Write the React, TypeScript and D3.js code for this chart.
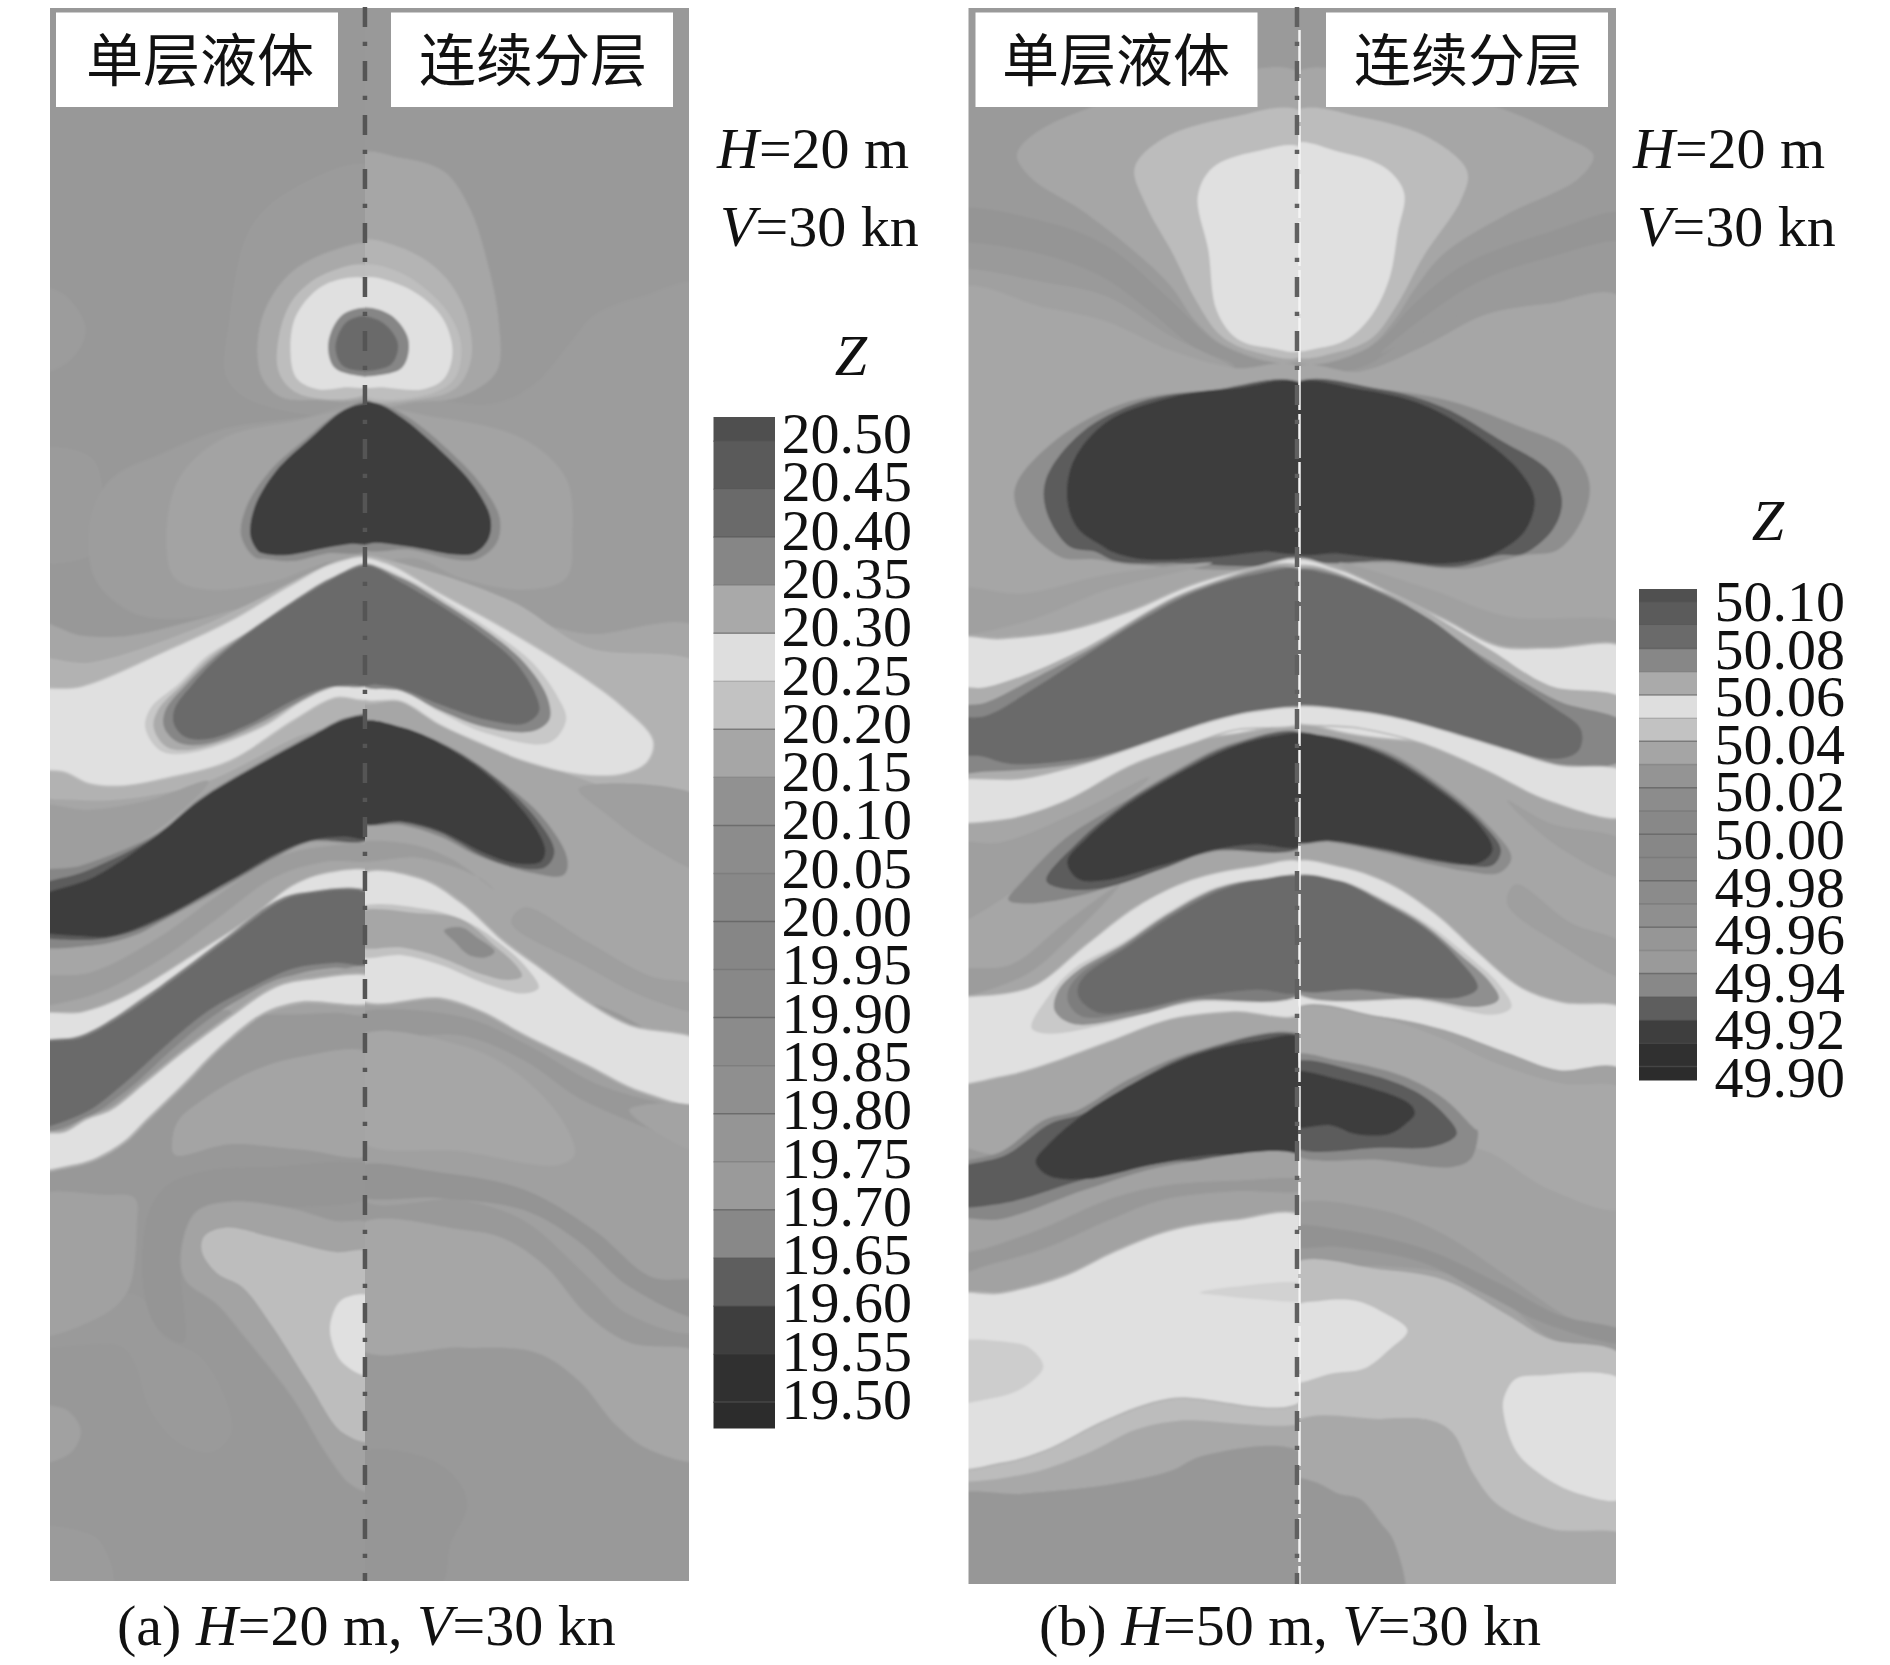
import React from "react";
import * as d3 from "d3";

type Pt = [number, number];
type Layer = { shade: string; pts: Pt[]; edge?: string; edgeW?: number };

// Digitising frames: y is read in one of several frames and converted to station units
const frame = (off: number, k: number) => (...n: number[]): Pt[] => {
  const out: Pt[] = [];
  for (let i = 0; i < n.length; i += 2) out.push([n[i], off + n[i + 1] / k]);
  return out;
};
const z1 = frame(0, 2.8);
const z2 = frame(540, 2.613);
const z3 = frame(1120, 2.877);
const L = (shade: string, ...parts: Pt[][]): Layer => ({ shade, pts: parts.flat() });
const LE = (shade: string, edge: string, edgeW: number, ...parts: Pt[][]): Layer => ({ shade, edge, edgeW, pts: parts.flat() });

const DK = "#3d3d3d", D2 = "#5c5c5c", MD = "#6a6a6a", RG = "#868686", LT = "#e0e0e0", EE = "#bdbdbd", CC = "#a6a6a6";

// ---------- Panel (a) single-layer half ----------
const aLeft: Layer[] = [
  L("#9b9b9b", z1(790,470,600,530,500,640,450,900,445,1060,520,1130,790,1130)),
  L("#9c9c9c", z1(-30,810,50,820,108,920,70,1010,-30,1045)),
  L("#9b9b9b", z1(-30,1270,120,1280,150,1400,140,1540,-30,1560)),
  L("#9d9d9d", z1(790,1135,620,1170,440,1200,290,1270,170,1340,120,1450), z2(130,100,220,190,340,205,480,175,620,100,700,50,790,45)),
  L("#a3a3a3", z1(790,1160,600,1180,430,1230,330,1340,300,1500), z2(320,100,400,130,550,110,680,60,790,40)),
  L("#a9a9a9", z1(790,690,700,700,590,770,525,900,525,1050,570,1110,650,1120,790,1100)),
  L(EE, z1(790,750,680,765,600,840,565,960,570,1050,620,1105,790,1090)),
  L(LT, z1(790,790,680,795,610,880,595,980,610,1060,660,1090,720,1085,790,1075)),
  L(RG, z1(790,868,720,880,685,960,700,1030,772,1055,790,1055)),
  L(MD, z1(790,890,730,900,702,970,720,1025,772,1040,790,1040)),
  L("#8a8a8a", z1(790,1128,720,1148,630,1230,545,1320,490,1420,478,1500,510,1560), z2(540,50,600,55,680,35,790,20)),
  L(DK, z1(790,1130,770,1130,720,1150,640,1230,560,1320,510,1420,500,1500,520,1545), z2(530,35,580,40,680,20,740,10,790,5)),
  L(CC, z2(-30,220,100,250,210,250,400,200,550,150,700,65,790,50,790,1215,600,1215,300,1240,-30,1250)),
  L("#b2b2b2", z2(-30,320,120,320,350,240,500,165,700,60,790,50,790,425,600,520,400,630,250,670,100,680,-30,650)),
  LE(LT, "#c4c4c4", 3, z2(790,55,700,62,600,118,450,215,300,292,100,385,-30,405,-30,585,60,605,120,635,200,640,300,620,450,575,600,470,700,410,790,408)),
  L("#c8c8c8", z2(790,66,690,100,600,160,500,235,400,300,330,375,262,440,250,490,285,550,350,558,530,490,620,425,700,385,790,372)),
  L("#ababab", z2(790,66,690,100,600,160,500,235,410,300,340,375,280,445,270,490,300,540,360,548,520,490,615,425,695,385,790,372)),
  L(RG, z2(790,66,690,100,600,160,500,235,415,305,350,375,298,445,295,490,330,530,400,532,510,485,610,425,690,385,790,372)),
  L(MD, z2(790,68,760,70,690,105,600,165,500,240,420,310,360,380,320,440,318,480,345,515,400,520,500,480,600,420,680,385,740,378,790,378)),
  L("#9e9e9e", z2(-30,700,120,705,260,680,400,630,300,740,130,850,-30,890)),
  L(RG, z2(-30,880,100,850,280,765,380,675,500,595,650,505,730,463,790,463,790,775,640,790,560,830,450,900,300,990,220,1035,120,1060,-30,1050)),
  L(D2, z2(-30,920,110,865,280,770,380,680,500,600,650,510,730,466,790,466,790,775,640,787,450,893,300,985,200,1030,110,1045,-30,1020)),
  L(DK, z2(790,465,730,468,650,510,500,600,380,680,280,770,130,880,-30,950,-30,1010,100,1035,170,1035,300,980,450,890,560,820,640,785,720,775,790,775)),
  L("#9c9c9c", z2(790,835,680,840,560,880,420,990,280,1100,120,1190,-30,1210,-30,1150,120,1130,280,1040,420,930,560,830,680,800,790,800)),
  LE(LT, "#bcbcbc", 3, z2(790,870,680,872,600,905,500,990,380,1075,200,1195,100,1235,-30,1245,-30,1305,100,1295,250,1190,350,1120,450,1040,570,945,630,925,790,930)),
  L(RG, z2(790,925,630,920,565,940,445,1035,335,1125,195,1235,95,1295,-30,1325,-30,1545,100,1515,210,1435,310,1335,410,1245,510,1180,610,1135,700,1118,790,1118)),
  L(MD, z2(790,930,630,925,570,945,450,1040,340,1130,200,1240,100,1300,-30,1330,-30,1530,100,1500,200,1420,300,1320,400,1230,500,1170,600,1120,700,1105,790,1105)),
  L("#a4a4a4", z2(790,1345,620,1350,500,1390,390,1460,330,1515), z3(315,50,320,100,450,70,620,85,790,95)),
  L("#a2a2a2", z2(790,1118,700,1125,560,1150,450,1230,560,1240,700,1235,790,1235)),
  LE(LT, "#b0b0b0", 5, z2(790,1145,640,1150,560,1170,450,1250,340,1340,250,1420,170,1490), z3(110,0,60,35,-30,50,-30,140,70,130,130,110,200,60,250,0), z2(340,1420,430,1320,530,1235,620,1205,790,1205)),
  L("#9a9a9a", z3(-30,650,190,650,225,700,260,830,330,930,410,955,455,900,440,800,380,680,290,620,250,520,205,500,100,590,-30,615)),
  L("#a1a1a1", z3(-30,230,150,215,225,225,230,300,205,500,120,580,-30,615)),
  L("#959595", z3(790,135,550,135,400,145,300,190,255,280,248,500,280,600,340,640,335,460,335,380,370,265,450,235,600,250,790,215)),
  L("#a3a3a3", z3(790,305,700,290,600,255,450,235,370,265,335,380,345,460,420,530,490,630,600,800,680,960,740,1050,790,1065)),
  L("#bdbdbd", z3(790,385,700,380,560,340,440,310,390,335,385,380,420,440,480,480,550,590,640,760,720,900,790,920)),
  L(LT, z3(790,510,720,515,695,560,690,620,720,700,790,735)),
  L("#a1a1a1", z3(-30,825,40,825,70,840,97,895,70,960,-30,985)),
  L("#9b9b9b", z3(-30,1180,100,1185,140,1210,170,1340,-30,1360)),
];

// ---------- Panel (a) continuous-stratification half ----------
const aRight: Layer[] = [
  L("#9c9c9c", z1(755,1130,1080,1130,1180,1070,1260,960,1320,880,1430,830,1580,800), z2(1580,240,1300,245,1160,205,1000,130,860,60,755,45)),
  L(CC, z1(755,435,850,440,960,480,1020,580,1060,720,1090,900,1085,1040,1000,1110,900,1125,755,1125)),
  L("#b4b4b4", z1(755,680,850,690,950,760,1010,870,1025,1000,990,1085,900,1118,755,1105)),
  L("#bebebe", z1(755,750,850,760,960,860,1000,960,985,1060,920,1105,755,1095)),
  L(LT, z1(755,785,860,800,950,880,980,980,960,1060,910,1090,820,1085,755,1075)),
  L(RG, z1(755,868,830,880,875,950,860,1030,772,1055,755,1055)),
  L(MD, z1(755,890,810,900,850,960,835,1020,772,1040,755,1040)),
  L("#a3a3a3", z1(755,1160,950,1170,1150,1230,1250,1340,1265,1500), z2(1250,100,1150,130,1000,100,900,50,755,40)),
  L("#8a8a8a", z1(755,1128,800,1128,870,1165,970,1260,1050,1360,1092,1450,1085,1520,1040,1565), z2(980,50,880,25,755,15)),
  L(DK, z1(755,1130,800,1130,860,1170,950,1260,1030,1360,1070,1450,1065,1510,1030,1550,980,1552,900,1535,800,1520,755,1520)),
  L(CC, z2(755,50,860,60,1000,130,1160,205,1300,245,1580,240,1580,1320,1300,1210,755,1210)),
  L("#b2b2b2", z2(755,50,850,60,1120,160,1300,280,1580,335,1580,680,1400,660,1250,610,1100,540,950,450,860,420,755,420)),
  LE(LT, "#c4c4c4", 3, z2(755,405,860,420,950,480,1050,530,1150,575,1280,610,1380,610,1440,580,1455,525,1380,435,1250,332,1100,232,950,142,820,62,755,55)),
  L("#c8c8c8", z2(755,66,870,100,980,170,1090,250,1170,320,1230,410,1250,470,1210,530,1060,505,950,450,860,395,755,372)),
  L(RG, z2(755,66,860,100,960,165,1070,245,1150,320,1205,410,1210,470,1170,500,1060,490,950,445,860,395,755,372)),
  L(MD, z2(755,70,790,70,850,105,950,170,1050,245,1130,320,1180,410,1185,450,1150,480,1060,470,950,430,860,390,800,378,755,378)),
  L("#9f9f9f", z2(1280,650,1580,680,1580,860,1450,800,1350,720)),
  L(RG, z2(755,480,860,490,990,550,1095,630,1190,720,1252,830,1245,875,1170,870,1040,825,950,775,860,745,755,735)),
  L(D2, z2(755,480,860,490,985,550,1090,630,1180,730,1222,815,1200,855,1130,855,1050,825,950,765,860,738,755,735)),
  L(DK, z2(755,480,860,490,980,550,1080,630,1170,740,1200,810,1190,840,1130,845,1050,815,950,760,860,735,755,735)),
  L("#9c9c9c", z2(755,795,880,795,980,835,1080,915,1040,880,900,830,755,835)),
  L("#9f9f9f", z2(1150,960,1300,1050,1450,1140,1580,1170,1580,1230,1450,1200,1290,1110,1120,1000)),
  L("#a0a0a0", z2(755,1195,950,1195,1050,1230,1150,1290,1300,1370,1430,1440,1580,1470), z3(1580,600,1400,560,1300,450,1150,290,1000,230,755,220)),
  L("#989898", z2(755,1240,1000,1245,1160,1320,1320,1420,1580,1520,1580,1570,1300,1470,1150,1360,1000,1295,755,1295)),
  LE(LT, "#b6b6b6", 4, z2(755,880,900,885,1000,950,1100,1050,1200,1130,1300,1210,1400,1270,1580,1320,1580,1470,1430,1440,1300,1370,1150,1290,1050,1230,950,1195,755,1195)),
  L("#c2c2c2", z2(755,965,920,965,1020,1000,1100,1060,1150,1110,1185,1170,1150,1185,1060,1160,950,1110,860,1085,755,1085)),
  L(CC, z2(755,975,900,975,1000,990,1080,1060,1130,1110,1145,1140,1110,1150,1050,1135,950,1090,860,1065,755,1060)),
  L("#8b8b8b", z2(960,1020,1000,1012,1040,1040,1080,1075,1060,1090,1020,1085,985,1050)),
  L("#a6a6a6", z2(755,1300,1000,1320,1130,1390,1240,1515), z3(1270,100,1230,130,1000,90,755,55)),
  L("#a3a3a3", z3(1400,-30,1470,40,1580,90,1580,-30)),
  L("#949494", z3(755,135,950,150,1150,200,1320,320,1450,450,1580,470,1580,570,1400,480,1280,350,1150,260,950,225,755,215)),
  L("#969696", z3(755,965,900,965,980,1020,1015,1105,975,1220,950,1340,755,1340)),
  L(CC, z3(755,305,1000,315,1100,340,1200,420,1300,560,1400,640,1580,680,1580,975,1450,950,1370,880,1280,750,1180,670,1000,655,755,655)),
];

// ---------- Panel (b) ----------
const bLeft: Layer[] = [
  L("#959595", z1(-30,595,200,620,350,690,500,840,600,950,700,1005,820,1030,820,1045,650,1030,500,940,350,830,200,790,-30,760)),
  L("#9a9a9a", z1(-30,690,150,700,330,770,450,870,560,975,650,1020,650,1030,500,940,350,830,200,790,-30,760)),
  L("#a0a0a0", z1(-30,760,200,790,350,830,500,940,650,1030,650,1035,500,980,350,900,200,860,-30,820)),
  L(CC, z1(820,215,600,215,300,305,170,380,135,435,170,500,290,590,410,700,500,800,560,900,640,975,820,1000)),
  L("#bcbcbc", z1(820,320,640,330,480,390,415,470,440,570,510,720,560,840,620,940,700,985,820,990)),
  L(LT, z1(820,420,700,425,600,470,565,550,590,700,610,870,660,950,740,975,820,975)),
  L(CC, z1(-30,820,200,860,350,900,500,980,650,1030,820,1040), z2(820,1310,-30,1560)),
  L("#8e8e8e", z1(820,1082,600,1092,400,1125,230,1230,130,1370,155,1470,240,1560), z2(320,50,420,65,820,30)),
  L(D2, z1(820,1082,600,1092,430,1125,290,1210,205,1340,205,1430,260,1530), z2(320,30,370,55,500,60,820,28)),
  L(DK, z1(820,1082,650,1088,500,1113,350,1180,270,1290,255,1400,280,1480,340,1530), z2(360,30,430,50,600,45,720,30,820,25)),
  L("#a0a0a0", z2(-30,130,150,140,350,90,600,60,350,130,150,215,-30,240)),
  LE(LT, "#b5b5b5", 4, z2(820,60,700,75,550,120,400,190,250,240,100,260,-30,265,-30,440,820,440)),
  L("#adadad", z2(820,75,560,125,300,280,160,350,60,385,-30,395,-30,630,100,630,300,590,600,490,820,445)),
  L(RG, z2(820,85,560,130,300,290,170,365,60,425,-30,445,-30,600,70,605,300,580,600,485,820,445)),
  L(MD, z2(820,85,700,90,560,135,430,210,300,300,180,385,60,460,-30,470,-30,555,50,565,120,585,300,570,450,530,600,480,700,450,820,445)),
  LE(LT, "#b8b8b8", 3, z2(820,445,700,450,600,475,450,530,300,585,150,625,-30,640,-30,725,100,730,250,680,400,590,550,530,650,495,820,475)),
  L("#9f9f9f", z2(-30,800,100,790,300,700,450,620,300,760,150,900,-30,1000)),
  L("#9c9c9c", z2(-30,1130,120,1110,250,1000,380,900,260,1040,150,1140,-30,1190)),
  L(RG, z2(820,510,650,530,500,610,380,690,250,780,150,890,115,940,160,950,300,925,470,860,600,815,820,795)),
  L(D2, z2(820,511,650,535,510,610,390,690,280,790,205,890,240,910,340,910,480,860,600,812,820,795)),
  L(DK, z2(820,512,750,512,650,540,520,610,400,690,300,780,255,840,280,885,340,890,480,850,600,810,700,795,820,795)),
  LE(LT, "#bcbcbc", 3, z2(820,850,700,855,550,890,420,960,300,1060,170,1170,20,1195,-30,1195,-30,1410,100,1400,200,1370,350,1310,500,1250,650,1230,820,1230)),
  L("#c9c9c9", z2(820,885,720,885,605,908,485,978,385,1052,270,1120,205,1200,170,1275,210,1290,330,1270,550,1210,820,1180)),
  L("#8f8f8f", z2(820,885,720,885,610,910,490,980,390,1055,280,1125,232,1180,225,1230,270,1265,430,1240,550,1205,820,1178)),
  L("#7d7d7d", z2(820,887,720,887,615,912,495,982,395,1058,290,1130,258,1175,258,1210,290,1245,430,1230,550,1200,820,1177)),
  L(MD, z2(820,888,720,888,620,915,500,985,400,1060,300,1135,280,1170,285,1200,330,1235,430,1225,550,1195,700,1175,820,1175)),
  L("#878787", z2(820,1300,560,1335,400,1410,280,1490), z3(200,0,100,90,-30,145,-30,295,100,285,300,200,500,130,820,100)),
  L(D2, z2(820,1303,560,1340,410,1420,290,1500), z3(215,10,110,100,-30,155,-30,240,100,240,300,170,500,120,820,98)),
  L(DK, z2(820,1305,700,1310,560,1345,430,1410,300,1495), z3(210,70,180,120,210,160,300,170,450,130,600,100,820,95)),
  L("#a2a2a2", z3(-30,295,100,285,300,200,500,130,820,110,820,285,650,290,500,320,370,380,250,450,100,500,-30,515)),
  L("#989898", z3(820,200,650,205,480,230,350,290,200,370,60,420,-30,450,-30,400,60,370,200,310,350,230,480,190,650,175,820,175)),
  L("#a8a8a8", z3(820,860,520,860,420,885,300,955,150,1015,-30,1025,-30,1090,150,1075,350,1050,500,1010,580,965,820,965)),
  L("#bcbcbc", z3(820,790,500,790,350,850,200,940,100,975,-30,980,-30,1030,150,1020,300,960,420,890,520,865,820,865)),
  LE(LT, "#b5b5b5", 4, z3(820,285,650,290,500,320,370,380,250,450,100,500,-30,515,-30,990,100,985,200,950,350,860,500,800,820,800)),
  L("#cdcdcd", z3(-30,650,120,640,165,655,198,710,150,770,80,800,-30,805)),
  L("#d2d2d2", z3(570,497,650,480,820,475,820,515,700,515,620,505)),
  L("#979797", z3(-30,1090,150,1075,350,1050,500,1010,580,965,820,965,820,1400,-30,1400)),
];

const bRight: Layer[] = [
  L("#959595", z1(1580,600,1400,650,1200,740,1080,850,1000,950,900,1005,785,1030,785,1045,950,1030,1060,950,1200,840,1400,770,1580,760)),
  L("#9a9a9a", z1(1580,680,1400,720,1230,790,1100,890,1000,990,1100,930,1250,850,1400,800,1580,760)),
  L(CC, z1(785,215,1000,215,1290,305,1430,380,1505,435,1470,500,1300,600,1150,710,1080,810,1030,900,960,980,785,1005)),
  L("#bcbcbc", z1(785,320,960,330,1120,390,1205,480,1190,560,1100,720,1040,850,980,945,900,985,785,990)),
  L(LT, z1(785,408,900,425,1010,470,1055,540,1040,650,1020,780,980,880,920,950,850,975,785,975)),
  L(CC, z1(1580,840,1400,850,1250,880,1100,970,950,1040,785,1040), z2(785,1310,1580,1560)),
  L("#8e8e8e", z1(785,1082,1000,1090,1170,1125,1320,1190,1450,1260,1495,1350,1480,1450,1420,1540), z2(1340,40,1200,75,1030,60,785,30)),
  L(D2, z1(785,1082,1000,1090,1150,1142,1280,1230,1400,1320,1430,1400,1410,1480,1340,1550), z2(1280,40,1180,70,1030,55,785,28)),
  L(DK, z1(785,1082,950,1090,1100,1133,1230,1220,1330,1320,1365,1400,1340,1490,1270,1550), z2(1230,50,1130,62,1000,48,900,35,785,25)),
  L("#a0a0a0", z2(900,60,1120,130,1300,200,1580,220,1580,290,1300,280,1100,190,950,100)),
  LE(LT, "#b5b5b5", 4, z2(785,60,900,80,1020,140,1150,210,1280,280,1400,285,1580,285,1580,450,785,445)),
  L("#adadad", z2(785,75,1020,140,1250,280,1400,380,1580,420,1580,615,1430,610,1300,570,1050,480,785,445)),
  L(RG, z2(785,85,1000,135,1250,310,1420,420,1580,480,1580,570,1430,597,1300,565,1050,475,785,442)),
  L(MD, z2(785,88,880,90,1000,140,1120,210,1250,320,1400,430,1475,495,1470,550,1420,572,1300,550,1180,510,1050,470,950,450,785,440)),
  LE(LT, "#b8b8b8", 3, z2(785,442,950,450,1050,470,1180,510,1300,550,1420,590,1580,610,1580,720,1400,680,1250,600,1100,530,950,490,785,470)),
  L("#9f9f9f", z2(1580,790,1400,740,1300,680,1420,800,1580,880)),
  L("#9f9f9f", z2(1320,900,1450,1000,1580,1060,1580,1140,1430,1060,1300,950)),
  L("#8c8c8c", z2(785,510,860,510,1010,550,1130,630,1250,740,1310,830,1280,870,1200,865,1130,850,1000,815,880,790,785,785)),
  L(D2, z2(785,511,860,511,1005,555,1125,635,1240,740,1285,810,1265,850,1200,850,1130,840,1000,810,880,787,785,783)),
  L(DK, z2(785,512,860,512,1000,560,1120,640,1230,740,1265,810,1230,845,1130,835,1000,805,880,785,785,782)),
  LE(LT, "#bcbcbc", 3, z2(785,850,900,855,1020,900,1130,980,1230,1080,1330,1170,1430,1210,1580,1230,1580,1390,1420,1385,1300,1340,1150,1280,1000,1245,785,1230)),
  L("#c9c9c9", z2(785,885,900,888,1010,940,1110,1002,1200,1080,1280,1160,1310,1220,1270,1240,1100,1205,785,1175)),
  L("#8f8f8f", z2(785,886,900,890,1005,942,1105,1006,1190,1085,1255,1150,1280,1200,1230,1220,1100,1200,785,1172)),
  L(MD, z2(785,888,900,892,1000,945,1100,1010,1180,1090,1230,1170,1190,1195,1100,1195,950,1175,785,1165)),
  L("#a2a2a2", z2(785,1232,1000,1245,1150,1280,1300,1340,1420,1385,1580,1390), z3(1580,690,1400,630,1300,560,1150,460,1000,430,785,420)),
  L("#a8a8a8", z2(785,1235,1000,1250,1140,1300,1280,1370,1430,1420,1580,1440), z3(1580,250,1400,200,1250,90,1100,60,785,80)),
  L("#8a8a8a", z2(785,1350,900,1360,1050,1400,1150,1460,1225,1540), z3(1230,30,1215,110,1170,135,1000,115,785,90)),
  L(D2, z2(785,1370,950,1390,1080,1440,1150,1500), z3(1180,40,1130,75,1000,80,785,70)),
  L(DK, z2(785,1395,900,1410,1070,1475,1080,1500), z3(1060,10,1020,40,940,40,880,15,785,15)),
  L("#9a9a9a", z3(785,250,1000,260,1150,330,1300,450,1450,570,1580,630,1580,690,1400,625,1280,510,1150,440,1000,420,785,415)),
  L("#929292", z3(785,310,900,315,1100,370,1280,470,1420,560,1580,610,1580,640,1400,590,1230,490,1100,410,900,365,785,360)),
  L("#bebebe", z3(785,420,1000,430,1150,460,1300,560,1400,630,1580,685,1580,1205,1400,1175,1280,1110,1220,1020,1170,900,1120,865,1000,860,785,880)),
  L(LT, z3(785,545,860,520,940,520,1000,550,1063,605,1020,660,960,715,880,730,810,755,785,755)),
  L(LT, z3(1580,755,1380,735,1320,745,1295,790,1290,830,1320,950,1380,1020,1470,1075,1580,1085)),
  L("#a8a8a8", z3(785,880,1000,860,1120,865,1170,900,1220,1020,1280,1110,1400,1175,1600,1205,1600,1400,785,1400)),
  L("#979797", z3(785,1035,840,1040,900,1075,950,1090,1000,1160,1030,1210,1050,1400,785,1400)),
];

const baseAL = "#989898", baseAR = "#999999", baseB = "#9a9a9a";

// ---------- Colour bars ----------
const levelsA = d3.range(21).map((i) => +(20.5 - i * 0.05).toFixed(2));
const coloursA = ["#4f4f4f","#5a5a5a","#6a6a6a","#868686","#a9a9a9","#dedede","#c2c2c2","#a6a6a6","#919191","#8c8c8c","#888888","#868686","#888888","#8b8b8b","#8f8f8f","#959595","#9a9a9a","#888888","#5e5e5e","#3e3e3e","#303030","#2c2c2c"];
const levelsB = d3.range(21).map((i) => +(50.1 - i * 0.01).toFixed(2));
const coloursB = ["#505050","#5b5b5b","#6a6a6a","#878787","#aaaaaa","#dedede","#c2c2c2","#a5a5a5","#949494","#8c8c8c","#888888","#878787","#888888","#8b8b8b","#8f8f8f","#969696","#9a9a9a","#888888","#5e5e5e","#3e3e3e","#303030","#2c2c2c"];
const labelsB = [50.1,50.08,50.06,50.04,50.02,50.0,49.98,49.96,49.94,49.92,49.9];

const SERIF = "'Liberation Serif', serif";
const CJK = "'Noto Sans CJK SC', sans-serif";

const digitY = d3.scaleLinear().domain([0, 1665]).range([0, 1665]);
const curve = d3.curveCatmullRomClosed.alpha(0.5);

function Half({ id, x0, x1, y0, y1, base, layers, xs }: any) {
  const line = d3.line<Pt>().x((d) => xs(d[0])).y((d) => digitY(d[1])).curve(curve);
  return (
    <g clipPath={`url(#${id})`}>
      <clipPath id={id}><rect x={x0} y={y0} width={x1 - x0} height={y1 - y0} /></clipPath>
      <g filter="url(#soft)">
        <rect x={x0 - 10} y={y0 - 10} width={x1 - x0 + 20} height={y1 - y0 + 20} fill={base} />
        {layers.map((l: Layer, i: number) => (
          <path key={i} d={line(l.pts) as string} fill={l.shade} stroke={l.edge ?? "none"} strokeWidth={l.edgeW ?? 0} paintOrder="stroke" />
        ))}
      </g>
    </g>
  );
}

function ColourBar({ x, w, top, bottom, edgeY, levels, colours }: any) {
  const edges = [top, ...levels.map((v: number) => edgeY(v)), bottom];
  return (
    <g>
      {colours.map((c: string, i: number) => (
        <rect key={i} x={x} y={edges[i]} width={w} height={edges[i + 1] - edges[i] + 0.5} fill={c} />
      ))}
      {levels.map((v: number, i: number) => (
        <line key={v} x1={x} x2={x + w} y1={edgeY(v)} y2={edgeY(v)} stroke="#555" strokeOpacity={i % 2 ? 0.25 : 0.6} strokeWidth={1.5} />
      ))}
    </g>
  );
}

function PanelText({ x, xv, yh, yv }: any) {
  return (
    <g fontFamily={SERIF} fontSize={58} fill="#111">
      <text x={x} y={yh}><tspan fontStyle="italic">H</tspan>=20 m</text>
      <text x={xv} y={yv}><tspan fontStyle="italic">V</tspan>=30 kn</text>
    </g>
  );
}

export default function App() {
  const xa = d3.scaleLinear().domain([0, 1568]).range([40, 700]);
  const xb = d3.scaleLinear().domain([0, 1568]).range([960, 1620]);
  const ya = d3.scaleLinear().domain([20.5, 19.5]).range([441, 1402]);
  const yaL = d3.scaleLinear().domain([20.5, 19.5]).range([433.5, 1399.5]);
  const yb = d3.scaleLinear().domain([50.1, 49.9]).range([602, 1066.5]);
  const ybL = d3.scaleLinear().domain([50.1, 49.9]).range([601.5, 1077.5]);
  const cA = xa(772), cB = xb(803);
  const labelBox = (x: number, w: number, text: string, tx: number) => (
    <g key={text + x}>
      <rect x={x} y={12.5} width={w} height={94.5} fill="#fff" />
      <text x={tx} y={81} fontFamily={CJK} fontSize={57} textAnchor="middle" fill="#111">{text}</text>
    </g>
  );
  return (
    <svg width={1890} height={1665} viewBox="0 0 1890 1665" style={{ position: "absolute", left: 0, top: 0, display: "block", background: "#fff" }}>
      <defs>
        <filter id="soft" filterUnits="userSpaceOnUse" x={0} y={0} width={1890} height={1665}>
          <feGaussianBlur stdDeviation={0.8} />
        </filter>
      </defs>

      <Half id="aL" x0={50} x1={cA} y0={8} y1={1581} base={baseAL} layers={aLeft} xs={xa} />
      <Half id="aR" x0={cA} x1={689} y0={8} y1={1581} base={baseAR} layers={aRight} xs={xa} />
      <Half id="bL" x0={968.5} x1={cB} y0={8} y1={1584} base={baseB} layers={bLeft} xs={xb} />
      <Half id="bR" x0={cB} x1={1616} y0={8} y1={1584} base={baseB} layers={bRight} xs={xb} />

      {/* centre lines */}
      <line x1={cA} x2={cA} y1={7} y2={1581} stroke="#555" strokeWidth={4.5} strokeDasharray="20 14.8 4.3 14.9" />
      <line x1={cB + 1.5} x2={cB + 1.5} y1={30} y2={1585} stroke="#f4f4f4" strokeWidth={2.5} strokeDasharray="44 4" />
      <line x1={cB - 1} x2={cB - 1} y1={7} y2={1584} stroke="#606060" strokeWidth={4.5} strokeDasharray="20 14.8 4.3 14.9" />

      {labelBox(56, 282, "单层液体", 200)}
      {labelBox(391, 282, "连续分层", 533)}
      {labelBox(975.5, 282, "单层液体", 1116)}
      {labelBox(1326, 282, "连续分层", 1468)}

      <PanelText x={717} xv={720} yh={168} yv={246} />
      <PanelText x={1633} xv={1637} yh={168} yv={246} />

      <g fontFamily={SERIF} fontSize={58} fontStyle="italic" fill="#111" textAnchor="middle">
        <text x={851} y={375}>Z</text>
        <text x={1768} y={540}>Z</text>
      </g>

      <ColourBar x={713.5} w={61.5} top={417} bottom={1428} edgeY={ya} levels={levelsA} colours={coloursA} />
      <g fontFamily={SERIF} fontSize={58} fill="#111" textAnchor="end" dominantBaseline="central">
        {levelsA.map((v) => <text key={v} x={912} y={yaL(v)}>{v.toFixed(2)}</text>)}
      </g>

      <ColourBar x={1639} w={58} top={589} bottom={1080} edgeY={yb} levels={levelsB} colours={coloursB} />
      <g fontFamily={SERIF} fontSize={58} fill="#111" textAnchor="end" dominantBaseline="central">
        {labelsB.map((v) => <text key={v} x={1845} y={ybL(v)}>{v.toFixed(2)}</text>)}
      </g>

      <g fontFamily={SERIF} fontSize={58} fill="#111">
        <text x={117} y={1645}>(a) <tspan fontStyle="italic">H</tspan>=20 m, <tspan fontStyle="italic">V</tspan>=30 kn</text>
        <text x={1039} y={1645}>(b) <tspan fontStyle="italic">H</tspan>=50 m, <tspan fontStyle="italic">V</tspan>=30 kn</text>
      </g>
    </svg>
  );
}
